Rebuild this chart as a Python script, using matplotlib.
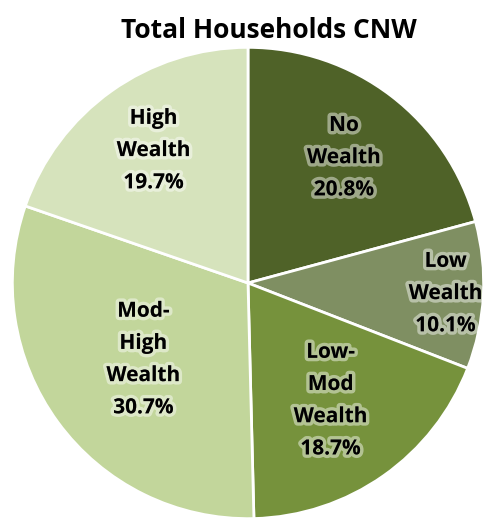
import numpy as np
import matplotlib.pyplot as plt
import matplotlib.patheffects as pe

# Household wealth categories, clockwise from 12 o'clock
categories = ['No\nWealth', 'Low\nWealth', 'Low-\nMod\nWealth', 'Mod-\nHigh\nWealth', 'High\nWealth']
shares = [20.8, 10.1, 18.7, 30.7, 19.7]
colors = ['#4f6228', '#7f8f62', '#76923c', '#c2d69b', '#d6e3bc']
label_dist = [0.67, 0.84, 0.61, 0.55, 0.69]

W, H = 484, 527
fig = plt.figure(figsize=(W / 100, H / 100), dpi=100)
cx, cy, r = 248, 283, 238
ax = fig.add_axes([(cx - r) / W, (H - cy - r) / H, 2 * r / W, 2 * r / H])

wedges, _ = ax.pie(shares, colors=colors, startangle=90, counterclock=False,
                   wedgeprops=dict(edgecolor='white', linewidth=2))
ax.set_xlim(-1.01, 1.01)
ax.set_ylim(-1.01, 1.01)
ax.axis('off')

glow = [pe.withStroke(linewidth=5, foreground=(1, 1, 1, 0.45))]
for w, cat, val, d in zip(wedges, categories, shares, label_dist):
    ang = np.deg2rad((w.theta1 + w.theta2) / 2)
    ax.text(d * np.cos(ang), d * np.sin(ang), f'{cat}\n{val}%',
            ha='center', va='center', fontsize=15, fontweight='bold',
            family='Open Sans', linespacing=1.7, color='black',
            path_effects=glow)

fig.text(269 / W, 1 - 31 / H, 'Total Households CNW', ha='center', va='center',
         fontsize=19, fontweight='bold', family='Open Sans')

fig.savefig('out.png', dpi=100)
